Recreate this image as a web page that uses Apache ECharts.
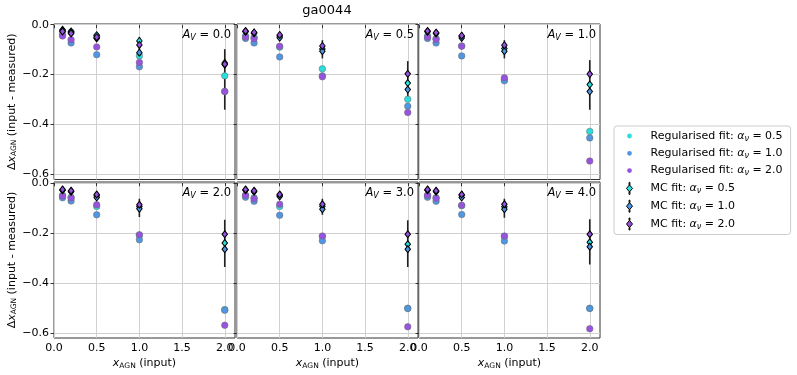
<!DOCTYPE html>
<html>
<head>
<meta charset="utf-8">
<script src="https://cdn.jsdelivr.net/npm/echarts@6/dist/echarts.min.js"></script>
<style>
  html, body { margin: 0; padding: 0; background: #fff; }
  #chart { width: 797px; height: 375px; }
</style>
</head>
<body>
<div id="chart"></div>
<script>
// input x_AGN values, same for every panel
const xVals = [0.1, 0.2, 0.5, 1.0, 2.0];
const xTicks = [0, 0.5, 1, 1.5, 2];
const yTicks = [0, -0.2, -0.4, -0.6];
const avLabels = ['0.0', '0.5', '1.0', '2.0', '3.0', '4.0'];

// regularised fits (one row per A_V panel)
const reg05 = [
  [-0.027, -0.030, -0.047, -0.125, -0.205],
  [-0.045, -0.050, -0.090, -0.177, -0.299],
  [-0.045, -0.055, -0.085, -0.220, -0.428],
  [-0.050, -0.058, -0.095, -0.210, -0.507],
  [-0.050, -0.060, -0.095, -0.215, -0.502],
  [-0.050, -0.060, -0.092, -0.215, -0.502]
];
const reg10 = [
  [-0.040, -0.073, -0.120, -0.169, -0.268],
  [-0.055, -0.073, -0.129, -0.205, -0.327],
  [-0.055, -0.073, -0.125, -0.225, -0.454],
  [-0.060, -0.073, -0.128, -0.228, -0.510],
  [-0.058, -0.074, -0.130, -0.232, -0.503],
  [-0.058, -0.074, -0.127, -0.233, -0.503]
];
const reg20 = [
  [-0.045, -0.060, -0.089, -0.151, -0.268],
  [-0.049, -0.056, -0.086, -0.209, -0.352],
  [-0.049, -0.059, -0.086, -0.213, -0.547],
  [-0.053, -0.061, -0.088, -0.208, -0.570],
  [-0.050, -0.064, -0.086, -0.213, -0.576],
  [-0.050, -0.062, -0.090, -0.213, -0.584]
];

// MC fits
const mc05 = [
  [-0.020, -0.027, -0.042, -0.065, -0.153],
  [-0.027, -0.032, -0.045, -0.097, -0.234],
  [-0.027, -0.033, -0.046, -0.095, -0.240],
  [-0.029, -0.034, -0.052, -0.095, -0.241],
  [-0.029, -0.034, -0.050, -0.094, -0.246],
  [-0.029, -0.034, -0.050, -0.096, -0.238]
];
const mc10 = [
  [-0.025, -0.030, -0.055, -0.112, -0.160],
  [-0.028, -0.034, -0.052, -0.106, -0.260],
  [-0.028, -0.035, -0.053, -0.106, -0.268],
  [-0.030, -0.036, -0.059, -0.104, -0.266],
  [-0.030, -0.036, -0.055, -0.106, -0.266],
  [-0.030, -0.036, -0.059, -0.106, -0.256]
];
const mc20 = [
  [-0.027, -0.035, -0.050, -0.081, -0.158],
  [-0.025, -0.031, -0.041, -0.085, -0.197],
  [-0.025, -0.032, -0.044, -0.082, -0.198],
  [-0.027, -0.032, -0.047, -0.088, -0.206],
  [-0.027, -0.032, -0.047, -0.086, -0.206],
  [-0.027, -0.032, -0.047, -0.086, -0.206]
];
// extent of the MC error bars
const errHi = [
  [-0.013, -0.018, -0.030, -0.049, -0.098],
  [-0.016, -0.020, -0.030, -0.062, -0.146],
  [-0.016, -0.020, -0.030, -0.062, -0.142],
  [-0.018, -0.022, -0.035, -0.064, -0.148],
  [-0.018, -0.022, -0.035, -0.064, -0.150],
  [-0.018, -0.022, -0.035, -0.064, -0.146]
];
const errLo = [
  [-0.035, -0.042, -0.062, -0.136, -0.341],
  [-0.036, -0.042, -0.060, -0.135, -0.300],
  [-0.036, -0.043, -0.062, -0.135, -0.341],
  [-0.038, -0.045, -0.068, -0.137, -0.337],
  [-0.038, -0.045, -0.066, -0.128, -0.337],
  [-0.038, -0.045, -0.068, -0.140, -0.327]
];

const FONT = 'DejaVu Sans';
const cyan = '#2bdede', blue = '#4f96e4', purple = '#9852e0';

const regSets = [
  { name: 'Regularised fit: α_ν = 0.5', data: reg05, color: cyan },
  { name: 'Regularised fit: α_ν = 1.0', data: reg10, color: blue },
  { name: 'Regularised fit: α_ν = 2.0', data: reg20, color: purple }
];
const mcSets = [
  { name: 'MC fit: α_ν = 0.5', data: mc05, color: cyan },
  { name: 'MC fit: α_ν = 1.0', data: mc10, color: blue },
  { name: 'MC fit: α_ν = 2.0', data: mc20, color: purple }
];

const colLeft = [54, 237, 419];
const rowTop = [24, 182];
const cellW = 181;
const cellH = [155.5, 156];

const axisFont = { fontFamily: FONT, fontSize: 11, color: '#000' };
const nameRich = {
  n: { fontFamily: FONT, fontSize: 11, color: '#000' },
  i: { fontFamily: FONT, fontSize: 11, fontStyle: 'italic', color: '#000' },
  s: { fontFamily: FONT, fontSize: 7.5, color: '#000', padding: [5, 0, 0, 0] }
};
const fmt = v => (v < 0 ? '\u2212' : '') + Math.abs(v).toFixed(1);

const grid = [], xAxis = [], yAxis = [], series = [];
const title = [{
  text: 'ga0044', left: 327, top: 4, textAlign: 'center', padding: 0,
  textStyle: { fontFamily: FONT, fontSize: 13, fontWeight: 'normal', color: '#000' }
}];

for (let p = 0; p < 6; p++) {
  const row = Math.floor(p / 3), col = p % 3;
  grid.push({
    left: colLeft[col], top: rowTop[row], width: cellW, height: cellH[row],
    show: true, borderColor: '#333', borderWidth: 1, backgroundColor: 'transparent'
  });
  xAxis.push({
    type: 'value', gridIndex: p, min: 0, max: 2.12,
    axisLine: { show: false },
    axisTick: { show: true, length: 3.5, customValues: xTicks, lineStyle: { color: '#333' } },
    axisLabel: Object.assign({ show: row === 1, customValues: xTicks, formatter: v => v.toFixed(1), margin: 5 }, axisFont),
    splitLine: { show: true, lineStyle: { color: '#d0d0d0', width: 1 } },
    name: row === 1 ? '{i|x}{s|AGN}{n| (input)}' : '',
    nameLocation: 'middle', nameGap: 19,
    nameTextStyle: { rich: nameRich }
  });
  yAxis.push({
    type: 'value', gridIndex: p, min: -0.621, max: 0.003,
    axisLine: { show: false },
    axisTick: { show: true, length: 3.5, customValues: yTicks, lineStyle: { color: '#333' } },
    axisLabel: Object.assign({ show: col === 0, customValues: yTicks, formatter: fmt, margin: 5 }, axisFont),
    splitLine: { show: true, lineStyle: { color: '#d0d0d0', width: 1 } },
    name: col === 0 ? '{n|\u0394}{i|x}{s|AGN}{n| (input - measured)}' : '',
    nameLocation: 'middle', nameGap: 35, nameRotate: 90,
    nameTextStyle: { rich: nameRich }
  });
  title.push({
    text: '{a|A}{s|V}{n| = ' + avLabels[p] + '}',
    right: 797 - (colLeft[col] + cellW) + 4, top: rowTop[row] + 5, padding: 0,
    textStyle: {
      fontWeight: 'normal',
      rich: {
        a: { fontFamily: FONT, fontSize: 11.5, fontStyle: 'italic', fontWeight: 'normal', color: '#000' },
        s: { fontFamily: FONT, fontSize: 8, fontStyle: 'italic', fontWeight: 'normal', color: '#000', padding: [5, 0, 0, 0] },
        n: { fontFamily: FONT, fontSize: 11.5, fontWeight: 'normal', color: '#000' }
      }
    }
  });

  // error bars of the MC fits
  series.push({
    type: 'custom', xAxisIndex: p, yAxisIndex: p, z: 2, silent: true,
    data: xVals.map((x, k) => [x, errHi[p][k], errLo[p][k]]),
    encode: { x: 0, y: [1, 2] },
    renderItem: (params, api) => {
      const a = api.coord([api.value(0), api.value(1)]);
      const b = api.coord([api.value(0), api.value(2)]);
      return { type: 'line', shape: { x1: a[0], y1: a[1], x2: b[0], y2: b[1] },
               style: { stroke: '#222', lineWidth: 1.6 } };
    }
  });
  regSets.forEach(s => series.push({
    name: s.name, type: 'scatter', xAxisIndex: p, yAxisIndex: p, z: 3,
    symbol: 'circle', symbolSize: 6.5,
    itemStyle: { color: s.color, borderColor: 'rgba(110,110,110,0.55)', borderWidth: 1, opacity: 1 },
    data: xVals.map((x, k) => [x, s.data[p][k]])
  }));
  mcSets.forEach(s => series.push({
    name: s.name, type: 'scatter', xAxisIndex: p, yAxisIndex: p, z: 4,
    symbol: 'diamond', symbolSize: [5.5, 7],
    itemStyle: { color: s.color, borderColor: '#000', borderWidth: 1, opacity: 1 },
    data: xVals.map((x, k) => [x, s.data[p][k]])
  }));
}

// small dot in a 12px tall box, and diamond with error bar
const circleIcon = 'path://M0,-6L0.01,-6L0.01,-5.99ZM0,6L0.01,6L0.01,5.99ZM-2.4,0A2.4,2.4,0,1,1,2.4,0A2.4,2.4,0,1,1,-2.4,0Z';
const mcIcon = 'path://M-0.45,-6L0.45,-6L0.45,-3.6L-0.45,-3.6ZM0,-3.6L3,0L0,3.6L-3,0ZM-0.45,3.6L0.45,3.6L0.45,6L-0.45,6Z';

const chart = echarts.init(document.getElementById('chart'), null, { renderer: 'canvas' });
chart.setOption({
  animation: false,
  backgroundColor: '#fff',
  title: title,
  grid: grid,
  xAxis: xAxis,
  yAxis: yAxis,
  legend: {
    orient: 'vertical', left: 614, top: 126,
    padding: [4, 8, 4, 12], itemGap: 4.8, itemWidth: 26, itemHeight: 12,
    borderColor: '#cccccc', borderWidth: 1, borderRadius: 3, backgroundColor: '#fff',
    selectedMode: false,
    data: regSets.map(s => ({ name: s.name, icon: circleIcon, itemStyle: { borderWidth: 0 } }))
      .concat(mcSets.map(s => ({ name: s.name, icon: mcIcon,
        itemStyle: { borderColor: '#000', borderWidth: 1 } }))),
    formatter: name => {
      const parts = name.split('α_ν');
      return '{n|' + parts[0] + '}{a|α}{s|ν}{n|' + parts[1] + '}';
    },
    textStyle: {
      padding: [0, 0, 0, 3],
      rich: {
        n: { fontFamily: FONT, fontSize: 11, color: '#000' },
        a: { fontFamily: FONT, fontSize: 11, fontStyle: 'italic', color: '#000' },
        s: { fontFamily: FONT, fontSize: 8, fontStyle: 'italic', color: '#000', padding: [5, 0, 0, 0] }
      }
    }
  },
  series: series
});
</script>
</body>
</html>
